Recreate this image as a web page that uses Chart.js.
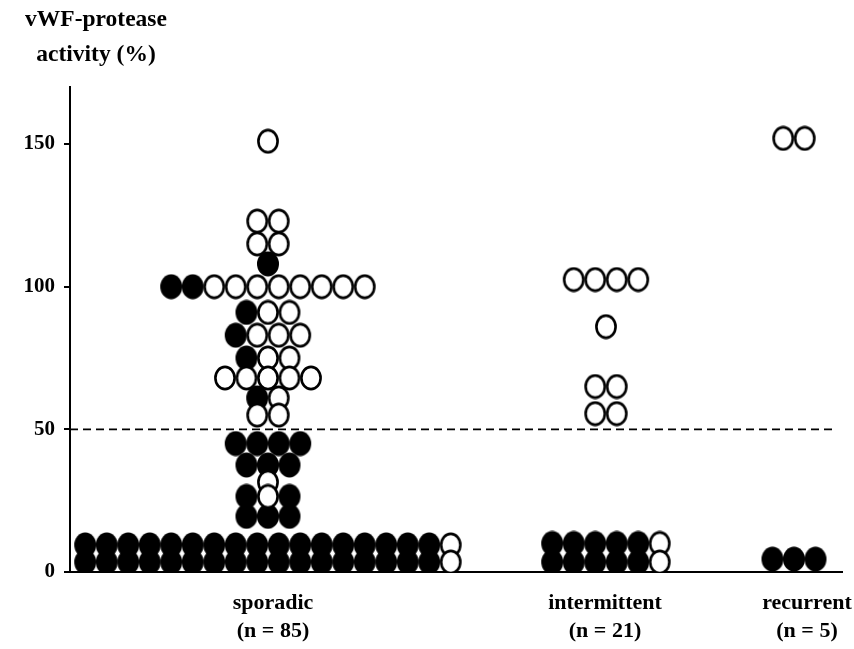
<!DOCTYPE html>
<html>
<head>
<meta charset="utf-8">
<title>vWF-protease activity</title>
<script src="https://cdn.jsdelivr.net/npm/chart.js@4.4.1/dist/chart.umd.min.js"></script>
<style>
	html, body { margin: 0; padding: 0; background: #fff; }
	#chartBox { width: 854px; height: 649px; }
</style>
</head>
<body>
<div id="chartBox"><canvas id="dotCanvas" width="854" height="649"></canvas></div>
<script>
/* 데이터 */
const categories = ['sporadic', 'intermittent', 'recurrent']
const groupSizes = [85, 21, 5]
const yTicks = [0, 50, 100, 150]
const cutoff = 50

// 각 줄의 활성도 값과 그 줄에 찍힌 점 종류 (F = 검은 점, O = 흰 점)
const sporadicValues = [151, 123, 115, 108, 100, 91, 83, 75, 68, 61, 55, 45, 37.5, 31.5, 26.5, 19.5, 9.5, 3.5]
const sporadicMarks = ['O', 'OO', 'OO', 'F', 'FFOOOOOOOO', 'FOO', 'FOOO', 'FOO', 'OOOOO', 'FO', 'OO',
	'FFFF', 'FFF', 'O', 'FOF', 'FFF', 'FFFFFFFFFFFFFFFFFO', 'FFFFFFFFFFFFFFFFFO']

const intermittentValues = [102.5, 86, 65, 55.5, 10, 3.5]
const intermittentMarks = ['OOOO', 'O', 'OO', 'OO', 'FFFFFO', 'FFFFFO']

const recurrentValues = [152, 4.5]
const recurrentMarks = ['OO', 'FFF']

/* 배치 (x축은 캔버스 픽셀 단위) */
const xMin = 70
const xMax = 842
const groupCenters = [268, 606, 794]
const labelCenters = [273, 605, 807]
const dotSpacing = 21.5
const serif = '"Liberation Serif", "DejaVu Serif", serif'

const groupValues = [sporadicValues, intermittentValues, recurrentValues]
const groupMarks = [sporadicMarks, intermittentMarks, recurrentMarks]

let filledPoints = []
let openPoints = []

for (let g = 0; g < categories.length; g++) {
	for (let r = 0; r < groupValues[g].length; r++) {
		let marks = groupMarks[g][r]
		let n = marks.length
		for (let i = 0; i < n; i++) {
			let pt = { x: groupCenters[g] + (i - (n - 1) / 2) * dotSpacing, y: groupValues[g][r] }
			if (marks[i] == 'F') filledPoints.push(pt)
			else openPoints.push(pt)
		}
	}
}

/* 타원 모양 점 */
function makeMark(filled) {
	const c = document.createElement('canvas')
	c.width = 24
	c.height = 26
	const g = c.getContext('2d')
	g.beginPath()
	if (filled) {
		g.ellipse(12, 13, 11, 12.4, 0, 0, Math.PI * 2)
		g.fillStyle = '#000'
		g.fill()
	} else {
		g.ellipse(12, 13, 9.6, 11.1, 0, 0, Math.PI * 2)
		g.fillStyle = '#fff'
		g.fill()
		g.lineWidth = 2.6
		g.strokeStyle = '#000'
		g.stroke()
	}
	return c
}

/* 50% 점선 + 제목 */
const extras = {
	id: 'extras',
	beforeDatasetsDraw(chart) {
		const { ctx, chartArea, scales } = chart
		const y = scales.y.getPixelForValue(cutoff)
		ctx.save()
		ctx.setLineDash([8, 5])
		ctx.lineWidth = 1.6
		ctx.strokeStyle = '#000'
		ctx.beginPath()
		ctx.moveTo(chartArea.left, y)
		ctx.lineTo(chartArea.right - 7, y)
		ctx.stroke()
		ctx.restore()
	},
	afterDraw(chart) {
		const ctx = chart.ctx
		ctx.save()
		ctx.font = 'bold 23.5px ' + serif
		ctx.fillStyle = '#000'
		ctx.textAlign = 'center'
		ctx.textBaseline = 'middle'
		ctx.fillText('vWF-protease', 96, 20)
		ctx.fillText('activity (%)', 96, 55)
		ctx.restore()
	}
}

new Chart(document.getElementById('dotCanvas'), {
	type: 'scatter'
	,data: {
		datasets: [
			{
				label: 'open'
				,data: openPoints
				,pointStyle: makeMark(false)
				,pointRadius: 11
				,order: 1
			}
			,{
				label: 'filled'
				,data: filledPoints
				,pointStyle: makeMark(true)
				,pointRadius: 11
				,order: 2
			}
		]
	}
	,plugins: [extras]
	,options: {
		responsive: false
		,animation: false
		,devicePixelRatio: 1
		,layout: { padding: { top: 87, right: 12, bottom: 0, left: 0 } }
		,plugins: {
			legend: { display: false }
			,tooltip: { enabled: false }
		}
		,scales: {
			x: {
				type: 'linear'
				,min: xMin
				,max: xMax
				,afterFit: function (scale) {
					scale.height = 77
					scale.paddingLeft = 0
					scale.paddingRight = 0
				}
				,afterBuildTicks: function (scale) {
					scale.ticks = labelCenters.map(v => ({ value: v }))
				}
				,grid: { drawOnChartArea: false, drawTicks: false }
				,border: { display: true, color: '#000', width: 2 }
				,ticks: {
					autoSkip: false
					,maxRotation: 0
					,padding: 18
					,color: '#000'
					,font: { family: serif, size: 22, weight: 'bold', lineHeight: 1.25 }
					,callback: function (value, index) {
						return [categories[index], '(n = ' + groupSizes[index] + ')']
					}
				}
			}
			,y: {
				min: 0
				,max: 170
				,afterFit: function (scale) {
					scale.width = 70
					scale.paddingTop = 0
					scale.paddingBottom = 0
				}
				,afterBuildTicks: function (scale) {
					scale.ticks = yTicks.map(v => ({ value: v }))
				}
				,grid: { drawOnChartArea: false, drawTicks: true, tickLength: 6, color: '#000', lineWidth: 2 }
				,border: { display: true, color: '#000', width: 2 }
				,ticks: {
					padding: 9
					,color: '#000'
					,font: { family: serif, size: 21, weight: 'bold' }
				}
			}
		}
	}
})
</script>
</body>
</html>
